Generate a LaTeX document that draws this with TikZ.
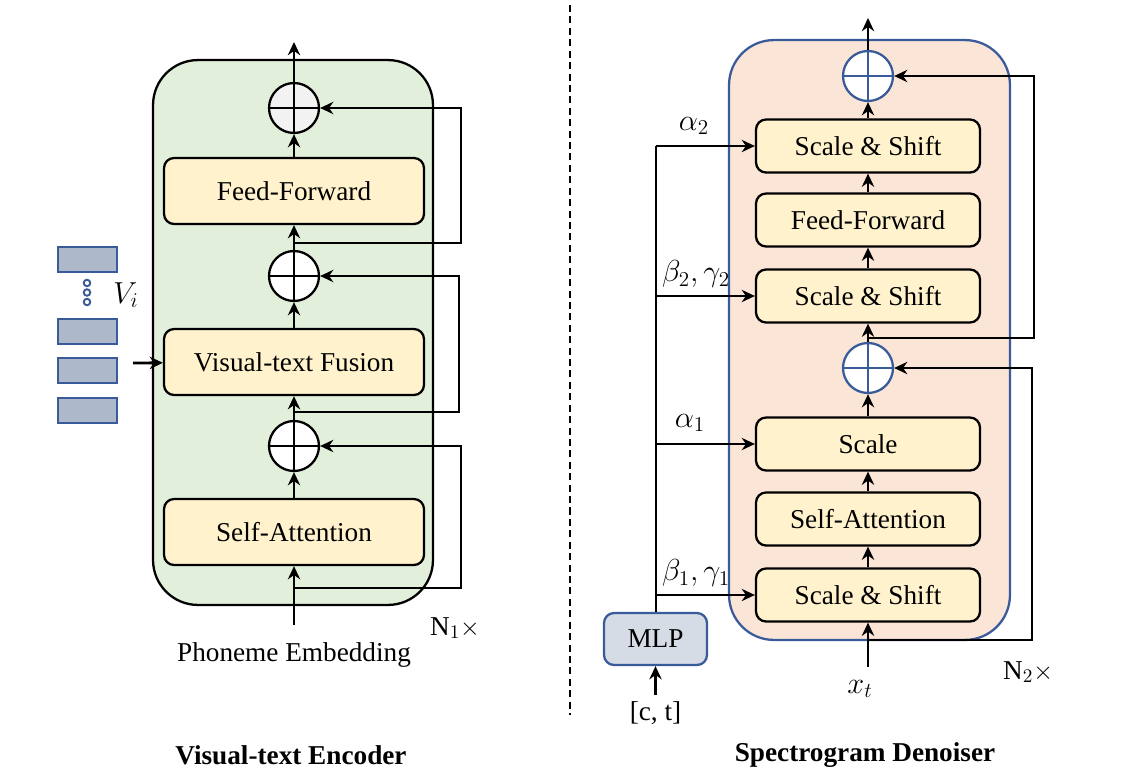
\documentclass[tikz,border=0pt]{standalone}
\usepackage{fontspec}
\setmainfont{Liberation Serif}
\usetikzlibrary{arrows.meta}
\definecolor{encgreen}{HTML}{E2EFDA}
\definecolor{denpink}{HTML}{FBE5D6}
\definecolor{blockyellow}{HTML}{FFF2CC}
\definecolor{edgeblue}{HTML}{3A5B9A}
\definecolor{mlpfill}{HTML}{D6DCE5}
\definecolor{vfill}{HTML}{ADB9CA}
\definecolor{sumgrayfill}{HTML}{F2F2F2}
\tikzset{
  arr/.style={-{Stealth[length=7.5pt,width=7pt]}, line width=1.6pt},
  plainline/.style={line width=1.6pt},
  blockbig/.style={draw, line width=1.3pt, rounded corners=0.2cm, fill=blockyellow,
    minimum width=5.2cm, minimum height=1.32cm, font=\fontsize{15.5}{18}\selectfont},
  blocksmall/.style={draw, line width=1.3pt, rounded corners=0.2cm, fill=blockyellow,
    minimum width=4.48cm, minimum height=1.06cm, font=\fontsize{15.5}{18}\selectfont},
  sumnode/.style={circle, draw, line width=1.3pt, minimum size=1cm, inner sep=0pt},
  vbox/.style={draw=edgeblue, line width=1.2pt, fill=vfill, minimum width=1.18cm, minimum height=0.5cm, inner sep=0pt},
  vdot/.style={circle, draw=edgeblue, line width=1.1pt, fill=white, minimum size=0.13cm, inner sep=0pt},
  lbl/.style={font=\fontsize{15.5}{18}\selectfont},
  mathlbl/.style={font=\fontsize{18}{21}\selectfont},
  ttl/.style={font=\fontsize{15.5}{18}\selectfont\bfseries}
}
\begin{document}
\begin{tikzpicture}[x=0.02cm, y=-0.02cm]
\useasboundingbox (0,0) rectangle (1146,778);

% frames
\node[draw, line width=1.3pt, fill=encgreen, rounded corners=0.9cm,
  minimum width=5.6cm, minimum height=10.9cm] (enc) at (293,332.5) {};
\node[draw=edgeblue, line width=1.3pt, fill=denpink, rounded corners=0.9cm,
  minimum width=5.62cm, minimum height=12cm] (den) at (869.5,340) {};

% visual-text encoder
\node[sumnode, fill=sumgrayfill] (add3) at (294,108) {};
\node[blockbig] (ff) at (294,191) {Feed-Forward};
\node[sumnode, fill=white] (add2) at (294,276) {};
\node[blockbig] (fuse) at (294,362) {Visual-text Fusion};
\node[sumnode, fill=white] (add1) at (294,446) {};
\node[blockbig] (sa) at (294,532) {Self-Attention};
\node[lbl] (phlabel) at (294,655) {Phoneme Embedding};
\node[lbl] (n1) at (455,628) {N$_1\times$};
\coordinate (phin) at (294,625);
\coordinate (encout) at (294,42);

\foreach \c in {add1,add2,add3}
  \draw[line width=1.3pt] (\c.north) -- (\c.south) (\c.west) -- (\c.east);

\draw[arr] (phin) -- (sa);
\draw[arr] (sa) -- (add1);
\draw[arr] (add1) -- (fuse);
\draw[arr] (fuse) -- (add2);
\draw[arr] (add2) -- (ff);
\draw[arr] (ff) -- (add3);
\draw[arr] (add3) -- (encout);

\coordinate (br1) at (294,588);
\coordinate (br2) at (294,412);
\coordinate (br3) at (294,243);
\draw[arr] (br1) -- (461,588) |- (add1);
\draw[arr] (br2) -- (459,412) |- (add2);
\draw[arr] (br3) -- (461,243) |- (add3);

% visual features
\node[vbox] (v1) at (87.5,259.5) {};
\node[vbox] (v2) at (87.5,331.5) {};
\node[vbox] (v3) at (87.5,370.5) {};
\node[vbox] (v4) at (87.5,410.5) {};
\node[vdot] (d1) at (87,283) {};
\node[vdot] (d2) at (87,292.5) {};
\node[vdot] (d3) at (87,302) {};
\node[mathlbl] (vlabel) at (126,295) {$V_i$};
\coordinate (vin) at (133,363);
\draw[arr] (vin) -- (fuse);

% separator
\draw[line width=1.3pt, dash pattern=on 4pt off 2.5pt] (570,5) -- (570,715);

% spectrogram denoiser
\node[sumnode, draw=edgeblue, fill=white] (dadd2) at (868,76) {};
\node[blocksmall] (ss2b) at (868,146) {Scale \& Shift};
\node[blocksmall] (ff2) at (868,220) {Feed-Forward};
\node[blocksmall] (ss2a) at (868,296) {Scale \& Shift};
\node[sumnode, draw=edgeblue, fill=white] (dadd1) at (868,368) {};
\node[blocksmall] (sc) at (868,444) {Scale};
\node[blocksmall] (sa2) at (868,519) {Self-Attention};
\node[blocksmall] (ss1) at (868,595) {Scale \& Shift};
\node[mathlbl] (xlabel) at (860,689) {$x_t$};
\node[lbl] (n2) at (1028,672) {N$_2\times$};
\coordinate (xin) at (868,667);
\coordinate (denout) at (868,18);

\foreach \c in {dadd1,dadd2}
  \draw[edgeblue, line width=1.3pt] (\c.north) -- (\c.south) (\c.west) -- (\c.east);

\draw[arr] (xin) -- (ss1);
\draw[arr] (ss1) -- (sa2);
\draw[arr] (sa2) -- (sc);
\draw[arr] (sc) -- (dadd1);
\draw[arr] (dadd1) -- (ss2a);
\draw[arr] (ss2a) -- (ff2);
\draw[arr] (ff2) -- (ss2b);
\draw[arr] (ss2b) -- (dadd2);
\draw[arr] (dadd2) -- (denout);

\coordinate (dbr1) at (868,640);
\coordinate (dbr2) at (868,338);
\draw[arr] (dbr1) -- (1032,640) |- (dadd1);
\draw[arr] (dbr2) -- (1034,338) |- (dadd2);

% conditioning
\node[draw=edgeblue, line width=1.3pt, fill=mlpfill, rounded corners=0.2cm,
  minimum width=2.06cm, minimum height=1.04cm, font=\fontsize{15.5}{18}\selectfont] (mlp) at (655.5,639) {MLP};
\node[lbl] (cond) at (655.5,713) {[c, t]};
\draw[arr] (cond) -- (mlp);

\coordinate (tb1) at (656,595);
\coordinate (tb2) at (656,444);
\coordinate (tb3) at (656,296);
\coordinate (tb4) at (656,146);
\draw[plainline] (mlp.north -| tb4) -- (tb4);
\draw[arr] (tb1) -- (ss1);
\draw[arr] (tb2) -- (sc);
\draw[arr] (tb3) -- (ss2a);
\draw[arr] (tb4) -- (ss2b);

\node[mathlbl] (a2) at (694,126) {$\alpha_2$};
\node[mathlbl] (bg2) at (696,274) {$\beta_2,\gamma_2$};
\node[mathlbl] (a1) at (690,423) {$\alpha_1$};
\node[mathlbl] (bg1) at (696,573) {$\beta_1,\gamma_1$};

% titles
\node[ttl] (enctitle) at (291,755) {Visual-text Encoder};
\node[ttl] (dentitle) at (865,755) {Spectrogram Denoiser};
\end{tikzpicture}
\end{document}
